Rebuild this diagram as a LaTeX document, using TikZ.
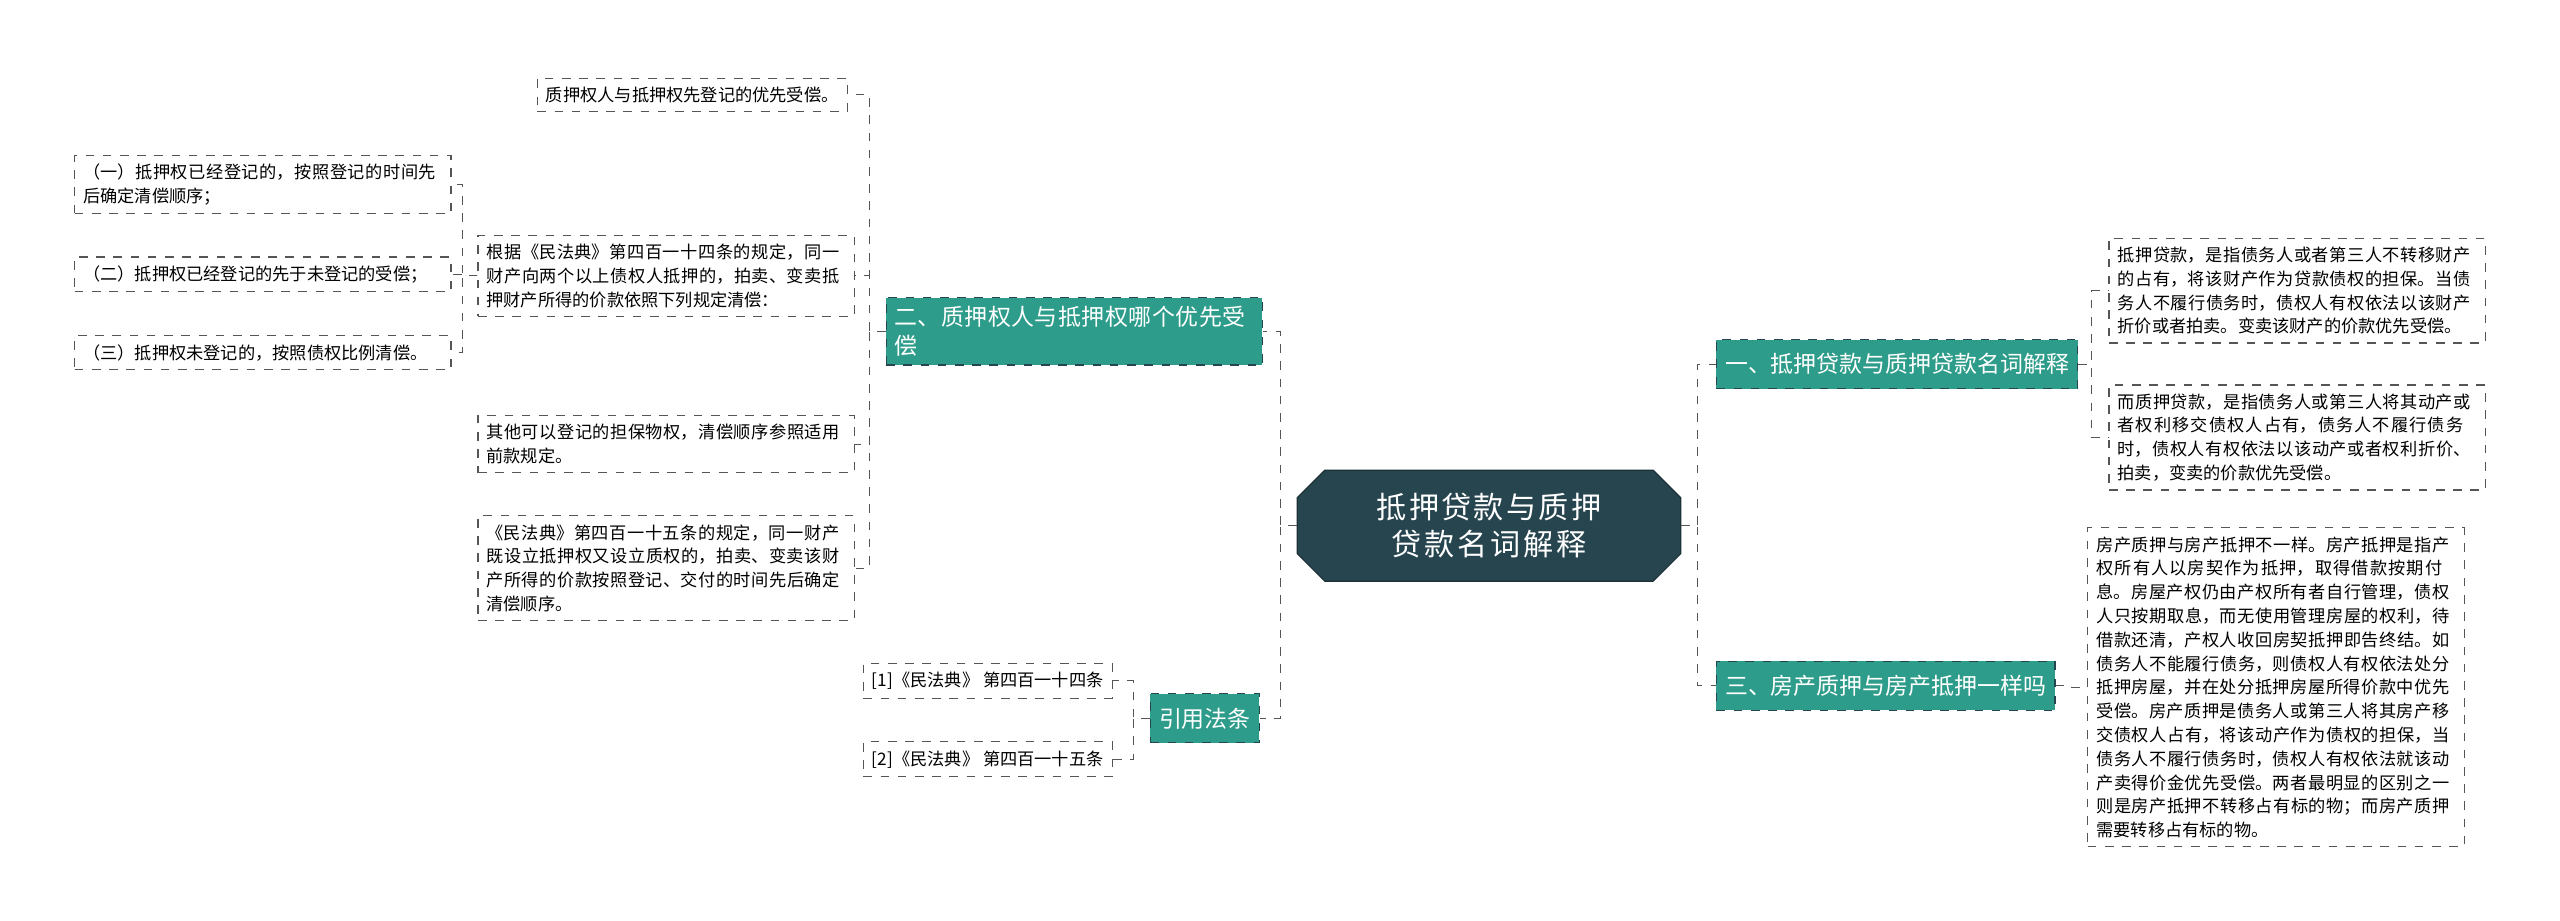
\documentclass[tikz,border=0pt]{standalone}
\usepackage{fontspec}
\setmainfont{Noto Sans CJK SC}
\XeTeXlinebreaklocale "zh"
\XeTeXlinebreakskip=0pt plus 1pt
\usetikzlibrary{shapes.misc, positioning}
\definecolor{rootc}{HTML}{27454F}
\definecolor{branchc}{HTML}{2E9C8A}
\definecolor{linec}{HTML}{555555}
\tikzset{
  root/.style={chamfered rectangle, chamfered rectangle xsep=6pt, fill=rootc, draw=rootc!70!black, text=white, font=\fontsize{10.5}{13}\selectfont, align=center, text width=3.9cm, minimum width=4.7cm, minimum height=1.36cm, inner sep=2pt},
  branch/.style={rectangle, fill=branchc, draw=rootc, dashed, text=white, font=\fontsize{8}{10}\selectfont, align=left, minimum height=0.6cm, inner sep=3pt},
  leaf/.style={rectangle, draw=linec, dashed, font=\fontsize{6}{8.3}\selectfont, align=left, inner sep=3pt},
  link/.style={draw=linec, dashed, thin}
}
\newcommand{\linkl}[3]{\draw[link] (#1.west) -- ++(-#3,0) |- (#2.east);}
\newcommand{\linkr}[3]{\draw[link] (#1.east) -- ++(#3,0) |- (#2.west);}
\begin{document}
\begin{tikzpicture}[x=0.02cm, y=-0.02cm]
\useasboundingbox (0,0) rectangle (1568,564);
% centre
\node (root) [root] at (912,322) {抵押贷款与质押贷款名词解释};
% right side
\node (def) [branch] at (1162,223) {一、抵押贷款与质押贷款名词解释};
\node (defa) [leaf, text width=4.4cm] at (1407,178) {抵押贷款，是指债务人或者第三人不转移财产的占有，将该财产作为贷款债权的担保。当债务人不履行债务时，债权人有权依法以该财产折价或者拍卖。变卖该财产的价款优先受偿。};
\node (defb) [leaf, text width=4.4cm] at (1407,268) {而质押贷款，是指债务人或第三人将其动产或者权利移交债权人占有，债务人不履行债务时，债权人有权依法以该动产或者权利折价、拍卖，变卖的价款优先受偿。};
\node (house) [branch] at (1155,420) {三、房产质押与房产抵押一样吗};
\node (housea) [leaf, text width=4.4cm] at (1394,421) {房产质押与房产抵押不一样。房产抵押是指产权所有人以房契作为抵押，取得借款按期付息。房屋产权仍由产权所有者自行管理，债权人只按期取息，而无使用管理房屋的权利，待借款还清，产权人收回房契抵押即告终结。如债务人不能履行债务，则债权人有权依法处分抵押房屋，并在处分抵押房屋所得价款中优先受偿。房产质押是债务人或第三人将其房产移交债权人占有，将该动产作为债权的担保，当债务人不履行债务时，债权人有权依法就该动产卖得价金优先受偿。两者最明显的区别之一则是房产抵押不转移占有标的物；而房产质押需要转移占有标的物。};
% left side
\node (order) [branch, text width=4.4cm] at (658,203) {二、质押权人与抵押权哪个优先受偿};
\node (ordera) [leaf] at (424,58) {质押权人与抵押权先登记的优先受偿。};
\node (orderb) [leaf, text width=4.4cm] at (408,169) {根据《民法典》第四百一十四条的规定，同一财产向两个以上债权人抵押的，拍卖、变卖抵押财产所得的价款依照下列规定清偿：};
\node (orderc) [leaf, text width=4.4cm] at (408,272) {其他可以登记的担保物权，清偿顺序参照适用前款规定。};
\node (orderd) [leaf, text width=4.4cm] at (408,348) {《民法典》第四百一十五条的规定，同一财产既设立抵押权又设立质权的，拍卖、变卖该财产所得的价款按照登记、交付的时间先后确定清偿顺序。};
\node (rule1) [leaf, text width=4.4cm] at (161,113) {（一）抵押权已经登记的，按照登记的时间先后确定清偿顺序；};
\node (rule2) [leaf, text width=4.4cm] at (161,168) {（二）抵押权已经登记的先于未登记的受偿；};
\node (rule3) [leaf, text width=4.4cm] at (161,216) {（三）抵押权未登记的，按照债权比例清偿。};
\node (law) [branch] at (738,440) {引用法条};
\node (lawa) [leaf] at (605,417) {[1]《民法典》 第四百一十四条};
\node (lawb) [leaf] at (605,465) {[2]《民法典》 第四百一十五条};
% connectors
\linkr{root}{def}{10}
\linkr{root}{house}{10}
\linkl{root}{order}{10}
\linkl{root}{law}{10}
\linkr{def}{defa}{8}
\linkr{def}{defb}{8}
\linkr{house}{housea}{10}
\linkl{order}{ordera}{10}
\linkl{order}{orderb}{10}
\linkl{order}{orderc}{10}
\linkl{order}{orderd}{10}
\linkl{orderb}{rule1}{9}
\linkl{orderb}{rule2}{9}
\linkl{orderb}{rule3}{9}
\linkl{law}{lawa}{10}
\linkl{law}{lawb}{10}
\end{tikzpicture}
\end{document}
